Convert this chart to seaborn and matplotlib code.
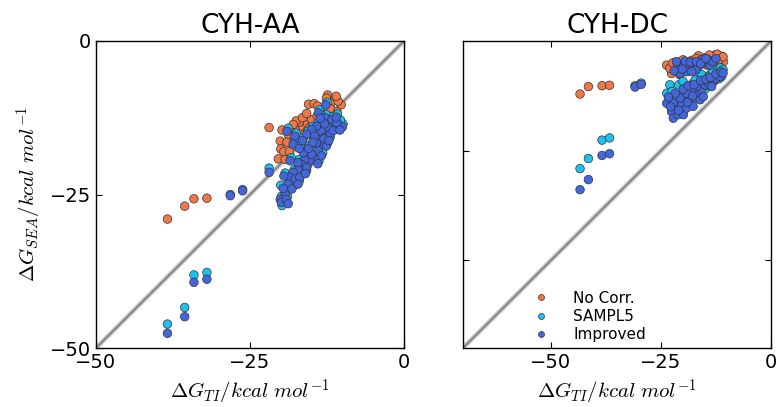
import pandas as pd
import matplotlib
matplotlib.use("Agg")
import matplotlib.pyplot as plt
import seaborn as sns

# ---- CYH-AA panel ----
aa_nocorr_x = [-38.4, -35.6, -34.1, -32.0, -21.9, -12.4, -11.2, -10.2, -15.5, -14.6, -11.9, -10.9,
               -11.6, -13.4, -15.0, -16.1, -16.9, -17.7, -18.5, -18.8, -20.1, -20.0, -20.4, -19.3,
               -18.2, -17.4, -16.3, -15.3, -13.9, -12.6, -13.6, -10.7, -12.6, -14.1, -17.0, -19.5,
               -17.5, -16.5, -18.0, -19.0, -18.6, -14.0, -11.0, -12.0, -15.8, -19.8]
aa_nocorr_y = [-29.0, -26.9, -25.7, -25.6, -14.1, -8.8, -9.5, -10.4, -10.3, -10.2, -10.2, -11.5,
               -12.0, -12.0, -12.8, -13.6, -14.0, -14.4, -14.7, -15.2, -16.3, -17.6, -19.2, -19.3,
               -16.6, -15.7, -15.2, -14.1, -13.3, -12.5, -11.4, -9.8, -9.3, -12.2, -13.2, -18.0,
               -13.0, -12.5, -13.6, -16.5, -18.0, -10.6, -9.0, -11.0, -11.8, -14.5]

aa_sampl5_x = [-38.4, -35.6, -34.1, -32.0, -28.2, -26.2, -21.9, -12.5, -13.7, -12.6, -11.5, -10.5,
               -9.9, -11.0, -12.1, -13.2, -14.0, -14.8, -15.6, -18.8, -17.5, -17.8, -12.6, -11.8,
               -13.2, -12.4, -13.7, -13.2, -14.3, -15.1, -15.9, -16.4, -15.6, -17.0, -17.8, -18.3,
               -17.5, -16.7, -18.6, -18.0, -19.1, -19.9, -19.7, -18.9, -14.8, -14.0, -14.3, -10.3,
               -17.0, -16.1, -15.3, -14.6, -12.8, -11.3, -10.2, -12.7, -13.4, -16.3, -16.8, -18.3,
               -19.3, -19.8, -20.0, -17.0, -15.8, -13.8, -12.0, -10.8]
aa_sampl5_y = [-46.1, -43.4, -38.1, -37.7, -25.0, -24.2, -20.7, -10.0, -11.2, -12.0, -12.3, -13.1,
               -13.5, -13.9, -13.6, -14.2, -13.4, -13.9, -14.7, -14.2, -15.0, -16.3, -15.2, -14.7,
               -16.3, -16.6, -17.4, -18.2, -18.8, -19.0, -18.8, -19.6, -20.1, -20.4, -20.9, -21.7,
               -22.0, -21.7, -22.8, -23.6, -24.4, -25.3, -25.8, -25.3, -17.9, -16.1, -15.0, -12.9,
               -19.3, -17.7, -17.0, -16.0, -15.4, -14.1, -14.0, -13.0, -12.1, -15.7, -17.0, -19.0,
               -21.5, -26.8, -23.5, -22.8, -21.1, -19.5, -15.7, -11.9]

aa_improved_x = [-38.4, -35.6, -34.1, -32.0, -28.2, -26.2, -21.9, -12.7, -13.9, -12.8, -11.7, -10.7,
                 -10.0, -11.2, -12.3, -13.4, -14.2, -15.0, -15.8, -19.0, -17.7, -18.0, -12.8, -12.0,
                 -13.4, -12.6, -13.9, -13.4, -14.5, -15.3, -16.1, -16.6, -15.8, -17.2, -18.0, -18.5,
                 -17.7, -16.9, -18.8, -18.2, -19.3, -20.1, -19.9, -19.1, -15.0, -14.2, -14.5, -10.9,
                 -17.2, -16.3, -15.5, -14.8, -13.0, -11.5, -10.4, -12.9, -13.6, -16.5, -17.0, -18.5,
                 -19.5, -18.8, -19.6, -17.2, -16.0, -14.0, -12.2, -11.0]
aa_improved_y = [-47.6, -44.9, -39.3, -38.8, -25.2, -24.4, -21.4, -10.4, -11.7, -12.5, -12.8, -13.6,
                 -14.0, -14.4, -14.1, -14.7, -13.9, -14.4, -15.2, -14.7, -15.5, -16.8, -15.7, -15.2,
                 -16.8, -17.1, -17.9, -18.7, -19.3, -19.5, -19.3, -20.1, -20.6, -20.9, -21.4, -22.2,
                 -22.5, -22.2, -23.3, -24.1, -24.9, -25.8, -26.3, -25.8, -18.5, -16.6, -15.5, -13.3,
                 -19.8, -18.2, -17.5, -16.5, -15.9, -14.6, -14.5, -13.5, -12.6, -16.2, -17.5, -19.5,
                 -22.0, -26.5, -24.0, -23.3, -21.6, -20.0, -16.2, -12.4]

# ---- CYH-DC panel ----
dc_nocorr_x = [-43.4, -41.5, -38.4, -36.7, -23.7, -22.6, -21.8, -20.7, -16.5, -15.4, -13.5, -12.7,
               -11.6, -10.8, -12.0, -17.7, -18.4, -19.9, -14.6, -21.1, -23.0, -16.1, -13.9, -11.2,
               -20.0, -19.0, -18.0, -15.0, -14.0, -13.0, -12.2, -11.8, -22.3, -21.0, -17.0, -10.9]
dc_nocorr_y = [-12.1, -10.4, -10.2, -10.1, -5.5, -7.4, -6.6, -7.7, -3.4, -4.3, -3.6, -3.2,
               -3.9, -4.7, -5.1, -5.1, -6.2, -5.5, -5.5, -5.8, -6.2, -4.7, -4.2, -3.5,
               -4.3, -5.0, -4.4, -3.8, -3.2, -4.5, -3.0, -4.3, -5.0, -7.0, -4.0, -3.6]

dc_sampl5_x = [-43.4, -41.5, -38.4, -36.7, -30.9, -29.5, -23.7, -22.2, -20.7, -19.5, -17.7, -16.5,
               -15.4, -13.9, -12.3, -11.2, -11.2, -22.6, -21.5, -19.0, -18.2, -17.0, -16.0, -14.6,
               -13.5, -12.6, -20.3, -18.6, -21.8, -16.8, -15.0, -14.0, -12.8, -11.8,
               -21.0, -20.0, -19.0, -17.2, -15.8, -14.2, -13.2, -12.0, -11.5, -10.9, -23.0, -22.5]
dc_sampl5_y = [-29.1, -26.8, -22.6, -22.1, -10.2, -9.6, -11.9, -13.0, -12.3, -11.1, -9.6, -8.7,
               -8.1, -7.7, -7.4, -7.4, -8.1, -14.0, -13.5, -12.6, -11.0, -10.2, -9.8, -9.2,
               -8.6, -8.0, -14.0, -13.0, -15.5, -12.5, -11.0, -10.2, -9.0, -8.6,
               -10.0, -9.2, -10.5, -8.9, -7.6, -8.2, -7.0, -6.6, -6.1, -6.5, -10.0, -11.5]

dc_improved_x = [-43.4, -41.5, -38.4, -36.7, -30.9, -29.5,
                 -21.1, -19.9, -18.8, -20.7, -19.2, -17.7, -16.5, -15.4, -14.6, -13.9, -15.8, -17.1,
                 -18.0, -14.2, -19.5, -18.3, -17.0, -16.0, -13.2, -12.5, -20.2, -22.0, -21.5, -14.8,
                 -23.7, -22.6, -22.2, -21.1, -19.9, -21.4, -20.3, -19.2, -18.4, -17.3, -16.5, -15.8,
                 -16.9, -15.0, -14.2, -13.1, -12.3, -11.6, -13.5, -18.0, -19.2, -20.7, -22.2, -16.1,
                 -15.4, -17.7, -21.8, -20.0, -18.8, -17.5, -16.0, -14.8, -13.8, -12.5, -11.4, -10.9,
                 -23.3, -21.0, -22.8, -19.0, -17.8]
dc_improved_y = [-33.9, -31.6, -26.1, -25.7, -10.5, -9.9,
                 -5.5, -5.8, -5.8, -7.4, -7.0, -5.5, -5.8, -5.1, -4.7, -5.5, -4.3, -6.6,
                 -7.0, -4.3, -4.6, -4.8, -4.7, -5.2, -4.7, -4.0, -6.4, -6.8, -4.7, -4.0,
                 -14.2, -16.1, -17.6, -16.8, -16.8, -14.9, -14.5, -15.3, -13.4, -13.0, -11.9, -11.1,
                 -10.4, -10.0, -9.6, -9.3, -8.5, -8.1, -10.4, -11.1, -11.9, -13.0, -14.2, -13.4,
                 -12.7, -14.9, -12.0, -11.0, -10.2, -10.0, -9.0, -8.7, -8.3, -7.5, -7.0, -7.3,
                 -12.8, -15.8, -15.0, -14.0, -12.5]

methods = ["No Corr.", "SAMPL5", "Improved"]
colors = ["#f07848", "#1ec0f0", "#4466dd"]


def make_frame(series):
    rows = []
    for name, xs, ys in series:
        for x, y in zip(xs, ys):
            rows.append({"ti": x, "sea": y, "method": name})
    return pd.DataFrame(rows)


aa = make_frame([("No Corr.", aa_nocorr_x, aa_nocorr_y),
                 ("SAMPL5", aa_sampl5_x, aa_sampl5_y),
                 ("Improved", aa_improved_x, aa_improved_y)])
dc = make_frame([("No Corr.", dc_nocorr_x, dc_nocorr_y),
                 ("SAMPL5", dc_sampl5_x, dc_sampl5_y),
                 ("Improved", dc_improved_x, dc_improved_y)])

sns.set_style("ticks")
plt.rcParams["font.family"] = ["DejaVu Sans"]
plt.rcParams["mathtext.fontset"] = "cm"
plt.rcParams["text.color"] = "black"
plt.rcParams["axes.labelcolor"] = "black"
plt.rcParams["xtick.color"] = "black"
plt.rcParams["ytick.color"] = "black"

fig = plt.figure(figsize=(7.78, 4.07), dpi=100)
ax1 = fig.add_axes([96 / 778, 59 / 407, 308 / 778, 307 / 407])
ax2 = fig.add_axes([463 / 778, 59 / 407, 308 / 778, 307 / 407])

for ax, df, lo, title in [(ax1, aa, -50, "CYH-AA"), (ax2, dc, -70, "CYH-DC")]:
    # y = x reference line, soft grey
    ax.plot([lo, 0], [lo, 0], color="#cccccc", lw=3.5, zorder=1)
    ax.plot([lo, 0], [lo, 0], color="#808080", lw=1.3, zorder=1)
    sns.scatterplot(data=df, x="ti", y="sea", hue="method", hue_order=methods,
                    palette=colors, s=38, edgecolor="#333333", linewidth=0.5,
                    ax=ax, legend=(ax is ax2), zorder=3)
    ax.set_xlim(lo, 0)
    ax.set_ylim(lo, 0)
    ax.set_title(title, fontsize=19)
    ax.set_xlabel(r"$\Delta G_{TI}/kcal\ mol^{-1}$", fontsize=15)
    ax.set_ylabel("")
    ax.tick_params(direction="in", top=True, right=True, labelsize=14, length=4, width=0.8)
    for sp in ax.spines.values():
        sp.set_linewidth(1.0)
        sp.set_color("black")

ax1.set_xticks([-50, -25, 0])
ax1.set_yticks([-50, -25, 0])
ax1.set_ylabel(r"$\Delta G_{SEA}/kcal\ mol^{-1}$", fontsize=15)
ax2.set_xticks([-50, -25, 0])
ax2.set_yticks([-50, -25])
ax2.set_yticklabels([])

leg = ax2.legend(loc="lower left", bbox_to_anchor=(0.16, -0.025), frameon=False,
                 fontsize=11, markerscale=0.7, labelspacing=0.2, handletextpad=1.1)

fig.savefig("out.png", dpi=100)
